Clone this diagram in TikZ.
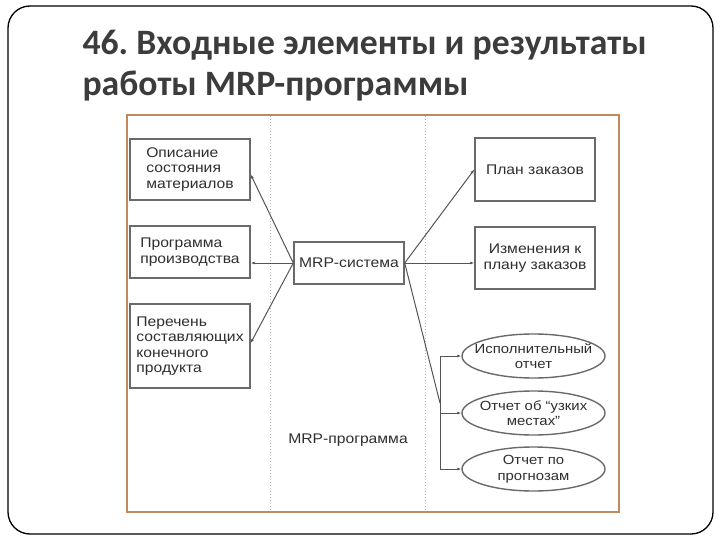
\documentclass[tikz,border=0pt]{standalone}
\usepackage{fontspec}
\setmainfont{Liberation Sans}[FakeStretch=1.12]
\newfontfamily\titlefont{Carlito}
\usetikzlibrary{positioning, arrows.meta, shapes.geometric}
\definecolor{Ink}{HTML}{2E2E2E}
\definecolor{Title}{HTML}{3C3C3C}
\definecolor{Edge}{HTML}{6A6A6A}
\definecolor{Wire}{HTML}{555555}
\definecolor{Frame}{HTML}{C08A5E}
\definecolor{Guide}{HTML}{B8B8B8}
\tikzset{
    inbox/.style={rectangle, draw=Edge, line width=1.4pt, minimum width=120, inner sep=2pt, text=Ink, align=left, font=\fontsize{14}{15.5}\selectfont},
    outbox/.style={rectangle, draw=Edge, line width=1.4pt, minimum width=120, inner sep=2pt, text=Ink, align=center, font=\fontsize{14}{15.5}\selectfont},
    report/.style={ellipse, draw=Edge, line width=1.4pt, minimum width=143, minimum height=44, inner xsep=-20pt, inner ysep=-6pt, text=Ink, align=center, font=\fontsize{13.3}{15.5}\selectfont},
    link/.style={-{Latex[length=4pt,width=3pt]}, line width=1pt, color=Wire},
    plainlink/.style={line width=1pt, color=Wire},
    guide/.style={Guide, line width=1pt, dotted},
}

\begin{document}
\begin{tikzpicture}[x=1pt, y=-1pt]
    \useasboundingbox (0,0) rectangle (720,540);
    % cornice della diapositiva
    \draw[line width=1.3pt, rounded corners=22] (8,6) rectangle (713,534);
    \node[anchor=base west, font=\titlefont\bfseries\fontsize{35.7}{40}\selectfont, text=Title] (title1) at (79,55) {46.\ Входные элементы и результаты};
    \node[anchor=base west, font=\titlefont\bfseries\fontsize{35.7}{40}\selectfont, text=Title] (title2) at (79,96) {работы MRP-программы};

    % cornice dello schema e linee guida
    \draw[Frame, line width=1.2pt] (127,115) rectangle (619,512);
    \draw[guide] (270,116) -- (270,511);
    \draw[guide] (425,116) -- (425,511);

    % ingressi
    \node[inbox, minimum height=61] (opis) at (190,169.5) {Описание\\состояния\\материалов};
    \node[inbox, minimum height=52] (prog) at (190,252) {Программа\\производства};
    \node[inbox, minimum height=84] (perech) at (190,346) {Перечень\\составляющих\\конечного\\продукта};

    % sistema
    \node[outbox, minimum width=110, minimum height=42] (mrp) at (349,263) {MRP-система};
    \node[text=Ink, font=\fontsize{14}{15.5}\selectfont] (prog label) at (348,440) {MRP-программа};

    % uscite
    \node[outbox, minimum height=63] (plan) at (535,169.5) {План заказов};
    \node[outbox, minimum height=62] (izm) at (535,258) {Изменения к\\плану заказов};
    \node[report] (isp) at (533.5,356) {Исполнительный\\отчет};
    \node[report] (uzk) at (533.5,413) {Отчет об “узких\\местах”};
    \node[report] (prg) at (533.5,469) {Отчет по\\прогнозам};

    % collegamenti
    \draw[link] (mrp.west) -- ([yshift=-5pt]opis.east);
    \draw[link] (mrp.west) -- (prog.east |- mrp.west);
    \draw[link] (mrp.west) -- ([yshift=3pt]perech.east);
    \draw[link] (mrp.east) -- (plan.west);
    \draw[link] (mrp.east) -- (izm.west |- mrp.east);
    \coordinate (split) at (440,403);
    \draw[plainlink] (mrp.east) -- (split);
    \draw[plainlink] (split |- isp.west) -- (split |- prg.west);
    \draw[link] (split |- isp.west) -- (isp.west);
    \draw[link] (split |- uzk.west) -- (uzk.west);
    \draw[link] (split |- prg.west) -- (prg.west);
\end{tikzpicture}
\end{document}
